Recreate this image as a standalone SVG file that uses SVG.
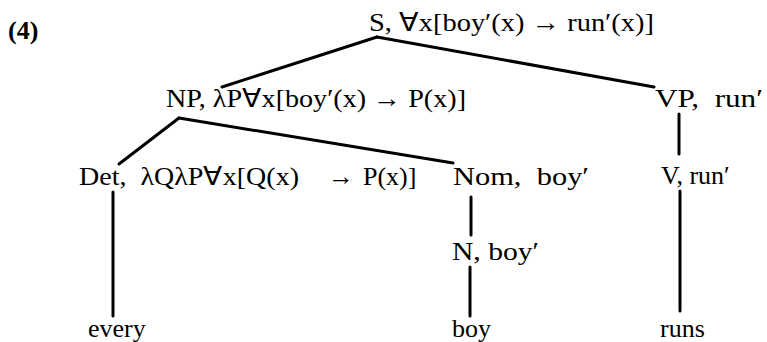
<svg xmlns="http://www.w3.org/2000/svg" width="767" height="342" viewBox="0 0 767 342">
<style>
text{font-family:"Liberation Serif","Times New Roman",serif;font-size:26px;fill:#000}
.b{font-weight:bold;font-size:26px}
line{stroke:#000;stroke-width:3;stroke-linecap:round}
</style>
<rect width="767" height="342" fill="#fff"/>
<text class="b" x="8" y="39">(4)</text>
<g id="connectors">
<line x1="377" y1="37" x2="222" y2="87"/>
<line x1="377" y1="37" x2="654" y2="87"/>
<line x1="179" y1="118" x2="119" y2="164"/>
<line x1="179" y1="118" x2="453" y2="163"/>
<line x1="679" y1="114" x2="679" y2="154"/>
<line x1="113" y1="192" x2="113" y2="316"/>
<line x1="471" y1="197" x2="471" y2="235"/>
<line x1="470" y1="267" x2="470" y2="316"/>
<line x1="680" y1="191" x2="680" y2="311"/>
</g>
<g id="S"><text x="369" y="31" textLength="285" lengthAdjust="spacingAndGlyphs">S, ∀x[boy′(x) → run′(x)]</text></g>
<g id="NP"><text x="166" y="107" textLength="300" lengthAdjust="spacingAndGlyphs">NP, λP∀x[boy′(x) → P(x)]</text></g>
<g id="VP"><text xml:space="preserve" x="655" y="107" textLength="108" lengthAdjust="spacingAndGlyphs">VP,  run′</text></g>
<g id="Det"><text xml:space="preserve" x="79" y="185"><tspan textLength="220" lengthAdjust="spacingAndGlyphs">Det,  λQλP∀x[Q(x)</tspan><tspan x="328">→</tspan><tspan x="363">P(x)]</tspan></text></g>
<g id="Nom"><text xml:space="preserve" x="453" y="185" textLength="136" lengthAdjust="spacingAndGlyphs">Nom,  boy′</text></g>
<g id="V"><text x="661" y="184">V, run′</text></g>
<g id="N"><text x="452" y="260" textLength="87" lengthAdjust="spacingAndGlyphs">N, boy′</text></g>
<g id="every"><text x="88" y="337">every</text></g>
<g id="boy"><text x="452" y="337">boy</text></g>
<g id="runs"><text x="660" y="337">runs</text></g>
</svg>
